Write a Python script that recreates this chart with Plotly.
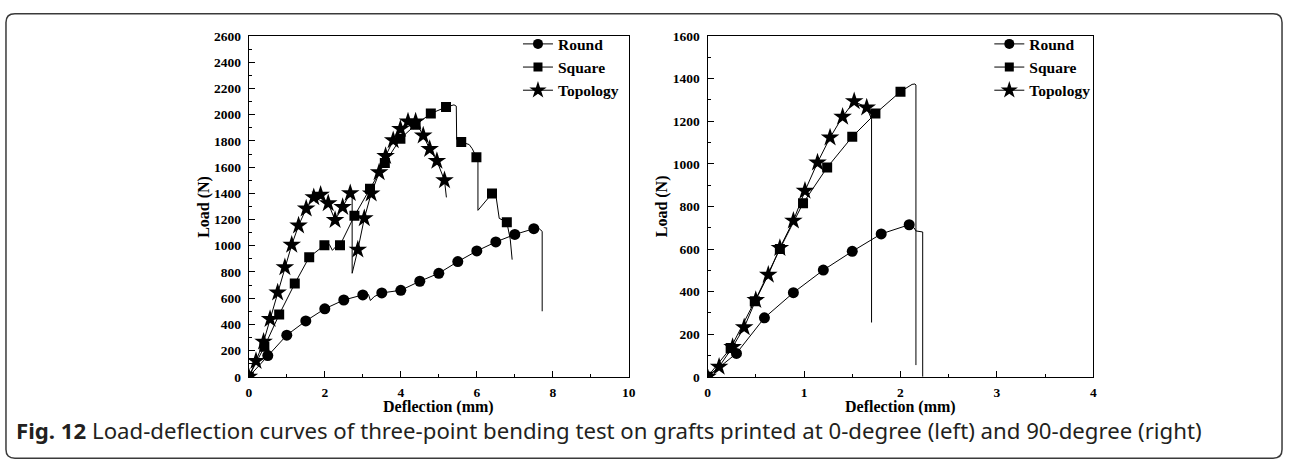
import plotly.graph_objects as go

W, H = 1292, 470

# ---------------- Data: left panel (0-degree) ----------------
round_l_x = [0, 0.5, 1.0, 1.5, 2.0, 2.5, 3.0, 3.15, 3.2, 3.3, 3.5, 4.0, 4.5, 5.0, 5.5, 6.0, 6.5, 7.0, 7.5, 7.65, 7.72, 7.72]
round_l_y = [0, 162, 318, 426, 519, 586, 625, 628, 582, 612, 640, 660, 729, 790, 879, 960, 1029, 1086, 1130, 1128, 1110, 500]
round_l_mk = [0, 1, 2, 3, 4, 5, 6, 10, 11, 12, 13, 14, 15, 16, 17, 18]

square_l_x = [0, 0.41, 0.80, 1.21, 1.59, 1.99, 2.12, 2.2, 2.28, 2.40, 2.78, 3.19, 3.58, 3.99, 4.39, 4.79, 5.19,
              5.40, 5.46, 5.47, 5.59, 5.80, 5.88, 5.99, 6.03, 6.03, 6.40, 6.50, 6.59, 6.79, 6.88, 6.93]
square_l_y = [0, 229, 475, 711, 913, 1004, 1010, 965, 990, 1004, 1228, 1435, 1632, 1817, 1923, 2009, 2058,
              2075, 2065, 1812, 1792, 1772, 1740, 1676, 1650, 1270, 1398, 1389, 1209, 1180, 1050, 894]
square_l_mk = [0, 1, 2, 3, 4, 5, 9, 10, 11, 12, 13, 14, 15, 16, 20, 23, 26, 29]

topo_l_x = [0, 0.19, 0.39, 0.56, 0.76, 0.95, 1.13, 1.31, 1.51, 1.71, 1.89, 2.09, 2.27, 2.47, 2.67, 2.72, 2.72,
            2.87, 3.04, 3.22, 3.43, 3.60, 3.80, 3.99, 4.19, 4.39, 4.59, 4.76, 4.95, 5.15, 5.20]
topo_l_y = [0, 121, 268, 441, 643, 835, 1007, 1154, 1283, 1369, 1388, 1324, 1196, 1295, 1401, 1410, 790,
            970, 1209, 1398, 1561, 1684, 1804, 1891, 1947, 1947, 1841, 1738, 1647, 1499, 1369]
topo_l_mk = [0, 1, 2, 3, 4, 5, 6, 7, 8, 9, 10, 11, 12, 13, 14, 17, 18, 19, 20, 21, 22, 23, 24, 25, 26, 27, 28, 29]

# ---------------- Data: right panel (90-degree) ----------------
round_r_x = [0, 0.30, 0.59, 0.89, 1.20, 1.50, 1.80, 2.09, 2.14, 2.16, 2.23, 2.23]
round_r_y = [0, 110, 277, 395, 501, 589, 671, 714, 700, 685, 680, 0]
round_r_mk = [0, 1, 2, 3, 4, 5, 6, 7]

square_r_x = [0, 0.24, 0.49, 0.75, 0.99, 1.24, 1.50, 1.74, 2.00, 2.12, 2.15, 2.16, 2.16]
square_r_y = [0, 135, 355, 600, 815, 983, 1127, 1236, 1339, 1373, 1375, 1370, 55]
square_r_mk = [0, 1, 2, 3, 4, 5, 6, 7, 8]

topo_r_x = [0, 0.12, 0.26, 0.38, 0.50, 0.63, 0.75, 0.89, 1.01, 1.14, 1.27, 1.40, 1.52, 1.65, 1.70, 1.70]
topo_r_y = [0, 47, 140, 232, 360, 479, 605, 733, 873, 1006, 1123, 1221, 1294, 1264, 1210, 255]
topo_r_mk = [0, 1, 2, 3, 4, 5, 6, 7, 8, 9, 10, 11, 12, 13]

series_names = ["Round", "Square", "Topology"]
x_ticks_left = [0, 2, 4, 6, 8, 10]
x_ticks_right = [0, 1, 2, 3, 4]

caption_bold = "Fig. 12"
caption_rest = ("Load-deflection curves of three-point bending test on grafts printed at "
                "0-degree (left) and 90-degree (right)")

# ---------------- Styling ----------------
SERIF = "Liberation Serif"
symbols = {"Round": ("circle", 11), "Square": ("square", 10), "Topology": ("star", 14)}


def pxx(x):
    return x / W


def pyy(y):
    return 1 - y / H


fig = go.Figure()

panels = [
    ("x", "y", "legend", [(round_l_x, round_l_y, round_l_mk), (square_l_x, square_l_y, square_l_mk),
                          (topo_l_x, topo_l_y, topo_l_mk)]),
    ("x2", "y2", "legend2", [(round_r_x, round_r_y, round_r_mk), (square_r_x, square_r_y, square_r_mk),
                             (topo_r_x, topo_r_y, topo_r_mk)]),
]

for xa, ya, lg, sers in panels:
    for name, (sx, sy, mk) in zip(series_names, sers):
        sym, sz = symbols[name]
        fig.add_trace(go.Scatter(x=sx, y=sy, mode="lines", line=dict(color="black", width=1),
                                 xaxis=xa, yaxis=ya, showlegend=False, hoverinfo="skip"))
        fig.add_trace(go.Scatter(x=[sx[i] for i in mk], y=[sy[i] for i in mk], mode="markers",
                                 marker=dict(symbol=sym, size=sz, color="black", line=dict(width=0)),
                                 xaxis=xa, yaxis=ya, showlegend=False, hoverinfo="skip"))
        fig.add_trace(go.Scatter(x=[None], y=[None], mode="lines+markers", name=name,
                                 line=dict(color="black", width=1),
                                 marker=dict(symbol=sym, size=sz - 1, color="black"),
                                 xaxis=xa, yaxis=ya, legend=lg, showlegend=True))

tickfont = dict(family=SERIF, size=13.5, color="black", weight="bold")
common_axis = dict(showline=True, mirror=True, linecolor="black", linewidth=1.3, showgrid=False,
                   zeroline=False, ticks="inside", ticklen=6, tickwidth=1.2, tickcolor="black",
                   tickfont=tickfont, fixedrange=True)

yd = [1 - 382 / H, 1 - 30 / H]
legend_font = dict(family=SERIF, size=15.5, color="black", weight="bold")
fig.update_layout(
    width=W, height=H, margin=dict(l=0, r=0, t=0, b=0),
    paper_bgcolor="white", plot_bgcolor="white",
    xaxis=dict(domain=[247.7 / W, 630.7 / W], range=[0, 10], tickvals=x_ticks_left,
               minor=dict(dtick=1, tick0=0, ticks="inside", ticklen=3, tickcolor="black"),
               anchor="y", ticklabelstandoff=3, **common_axis),
    yaxis=dict(domain=yd, range=[0, 2600], dtick=200, tick0=0,
               minor=dict(dtick=100, tick0=0, ticks="inside", ticklen=3, tickcolor="black"),
               anchor="x", ticklabelstandoff=4, **common_axis),
    xaxis2=dict(domain=[710 / W, 1099 / W], range=[0, 4], tickvals=x_ticks_right,
                minor=dict(dtick=0.5, tick0=0, ticks="inside", ticklen=3, tickcolor="black"),
                anchor="y2", ticklabelstandoff=3, **common_axis),
    yaxis2=dict(domain=yd, range=[0, 1600], dtick=200, tick0=0,
                minor=dict(dtick=100, tick0=0, ticks="inside", ticklen=3, tickcolor="black"),
                anchor="x2", ticklabelstandoff=4, **common_axis),
    legend=dict(x=pxx(519), y=pyy(21), xanchor="left", yanchor="top", font=legend_font,
                bgcolor="rgba(0,0,0,0)", borderwidth=0, tracegroupgap=0, itemwidth=30),
    legend2=dict(x=pxx(994), y=pyy(21), xanchor="left", yanchor="top", font=legend_font,
                 bgcolor="rgba(0,0,0,0)", borderwidth=0, tracegroupgap=0, itemwidth=30),
)

title_font = dict(family=SERIF, size=16, color="black", weight="bold")
annos = [
    dict(text="Load (N)", x=pxx(203), y=pyy(206), textangle=-90),
    dict(text="Deflection (mm)", x=pxx(439), y=pyy(413)),
    dict(text="Load (N)", x=pxx(665), y=pyy(206), textangle=-90),
    dict(text="Deflection (mm)", x=pxx(904.5), y=pyy(413)),
]
for a in annos:
    fig.add_annotation(xref="paper", yref="paper", showarrow=False, xanchor="center", yanchor="middle",
                       font=title_font, **a)

fig.add_annotation(xref="paper", yref="paper", showarrow=False, xanchor="left", yanchor="middle",
                   x=pxx(11), y=pyy(437),
                   text=f"<b>{caption_bold}</b> {caption_rest}",
                   font=dict(family="Noto Sans", size=22.2, color="#231f20"))

# Card border (rounded rectangle)
x0, y0, x1, y1, r = 3, 7, 1289, 466, 9
path = (f"M {pxx(x0 + r)} {pyy(y0)} L {pxx(x1 - r)} {pyy(y0)} "
        f"Q {pxx(x1)} {pyy(y0)} {pxx(x1)} {pyy(y0 + r)} L {pxx(x1)} {pyy(y1 - r)} "
        f"Q {pxx(x1)} {pyy(y1)} {pxx(x1 - r)} {pyy(y1)} L {pxx(x0 + r)} {pyy(y1)} "
        f"Q {pxx(x0)} {pyy(y1)} {pxx(x0)} {pyy(y1 - r)} L {pxx(x0)} {pyy(y0 + r)} "
        f"Q {pxx(x0)} {pyy(y0)} {pxx(x0 + r)} {pyy(y0)} Z")
fig.add_shape(type="path", path=path, xref="paper", yref="paper",
              line=dict(color="#3a3a3a", width=1.5), fillcolor="rgba(0,0,0,0)", layer="below")

fig.write_html("out.html")
